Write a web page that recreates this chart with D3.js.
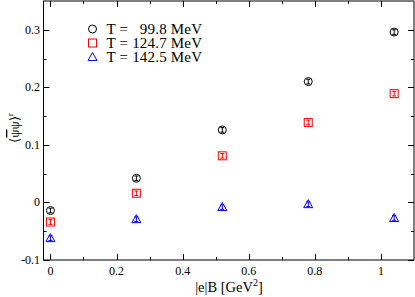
<!DOCTYPE html>
<html><head><meta charset="utf-8">
<script src="https://cdn.jsdelivr.net/npm/d3@7"></script>
<style>body{margin:0;background:#fff}svg{display:block}text{font-family:"Liberation Serif","Times New Roman",serif}</style>
</head><body>
<svg id="c" width="415" height="297"></svg>
<script>
const eB = [0, 0.26, 0.52, 0.78, 1.04];
const seriesNames = ["T = \u200799.8 MeV", "T = 124.7 MeV", "T = 142.5 MeV"];
const circleVals = [-0.014, 0.042, 0.126, 0.210, 0.296];
const squareVals = [-0.034, 0.016, 0.081, 0.139, 0.189];
const triangleVals = [-0.062, -0.029, -0.008, -0.003, -0.027];
const errVals = [0.004, 0.004, 0.004, 0.004, 0.004];
const xTicks = [0, 0.2, 0.4, 0.6, 0.8, 1];
const xTickLabels = ["0", "0.2", "0.4", "0.6", "0.8", "1"];
const yTicks = [-0.1, 0, 0.1, 0.2, 0.3];
const yTickLabels = ["-0.1", "0", "0.1", "0.2", "0.3"];

const svg = d3.select("#c");
const L = 43.5, R = 414, T = 1, B = 260;
const x = d3.scaleLinear().domain([-0.021, 1.1]).range([L, R]);
const y = d3.scaleLinear().domain([-0.1, 0.35]).range([B, T]);

const xMinor = d3.range(0, 1.1, 0.1).map(v => +v.toFixed(2)).filter(v => !xTicks.some(t => Math.abs(t - v) < 1e-6));
const yMinor = d3.range(-0.05, 0.35, 0.1).map(v => +v.toFixed(3));

const g = svg.append("g");
function ticksX(vals, len) {
  vals.forEach(v => {
    const px = Math.round(x(v)) + 0.5;
    g.append("line").attr("x1", px).attr("x2", px).attr("y1", B).attr("y2", B - len).attr("stroke", "#000");
    g.append("line").attr("x1", px).attr("x2", px).attr("y1", T).attr("y2", T + len).attr("stroke", "#000");
  });
}
function ticksY(vals, len) {
  vals.forEach(v => {
    const py = Math.round(y(v)) + 0.5;
    g.append("line").attr("y1", py).attr("y2", py).attr("x1", L).attr("x2", L + len).attr("stroke", "#000");
    g.append("line").attr("y1", py).attr("y2", py).attr("x1", R).attr("x2", R - len).attr("stroke", "#000");
  });
}
ticksX(xTicks, 6); ticksX(xMinor, 3);
ticksY(yTicks, 6); ticksY(yMinor, 3);

g.append("rect").attr("x", L).attr("y", T).attr("width", R - L).attr("height", B - T)
  .attr("fill", "none").attr("stroke", "#000").attr("stroke-width", 1);

xTicks.forEach((v, i) => {
  g.append("text").attr("x", x(v)).attr("y", 275).attr("text-anchor", "middle")
    .attr("font-size", 12).text(xTickLabels[i]);
});
yTicks.forEach((v, i) => {
  g.append("text").attr("x", 40).attr("y", y(v) + 4).attr("text-anchor", "end")
    .attr("font-size", 12).text(yTickLabels[i]);
});

const xt = g.append("text").attr("x", 229).attr("y", 292).attr("text-anchor", "middle").attr("font-size", 14.5);
xt.append("tspan").text("|e|B [GeV");
xt.append("tspan").attr("dy", -6).attr("font-size", 10).text("2");
xt.append("tspan").attr("dy", 6).text("]");

const yt = g.append("text").attr("transform", "translate(19,128) rotate(-90)").attr("text-anchor", "middle").attr("font-size", 13);
yt.append("tspan").text("\u27E8");
yt.append("tspan").attr("text-decoration", "overline").text("\u03C8");
yt.append("tspan").text("\u03C8\u27E9");
yt.append("tspan").attr("dy", -6).attr("font-size", 9).text("r");

const colors = ["#000", "#f00", "#00f"];
const data = [circleVals, squareVals, triangleVals];
function drawMarker(sel, type, cx, cy, col) {
  if (type === 0) sel.append("circle").attr("cx", cx).attr("cy", cy).attr("r", 4).attr("fill", "none").attr("stroke", col);
  else if (type === 1) sel.append("rect").attr("x", cx - 4).attr("y", cy - 4).attr("width", 8).attr("height", 8).attr("fill", "none").attr("stroke", col);
  else sel.append("path").attr("d", `M${cx},${cy - 4.5}L${cx + 4.5},${cy + 3.5}L${cx - 4.5},${cy + 3.5}Z`).attr("fill", "none").attr("stroke", col);
}
data.forEach((vals, s) => {
  const sg = g.append("g");
  vals.forEach((v, i) => {
    const cx = x(eB[i]), cy = y(v);
    const e = errVals[i];
    sg.append("line").attr("x1", cx).attr("x2", cx).attr("y1", y(v - e)).attr("y2", y(v + e)).attr("stroke", colors[s]);
    [v - e, v + e].forEach(w => sg.append("line").attr("x1", cx - 2).attr("x2", cx + 2).attr("y1", y(w)).attr("y2", y(w)).attr("stroke", colors[s]));
    drawMarker(sg, s, cx, cy, colors[s]);
  });
});

const ly = [29, 43, 57];
ly.forEach((yy, s) => {
  drawMarker(g, s, 92.5, yy, colors[s]);
  g.append("text").attr("x", 106.5).attr("y", yy + 5).attr("font-size", 15)
    .attr("textLength", 95.5).attr("lengthAdjust", "spacing").text(seriesNames[s]);
});
</script>
</body></html>
